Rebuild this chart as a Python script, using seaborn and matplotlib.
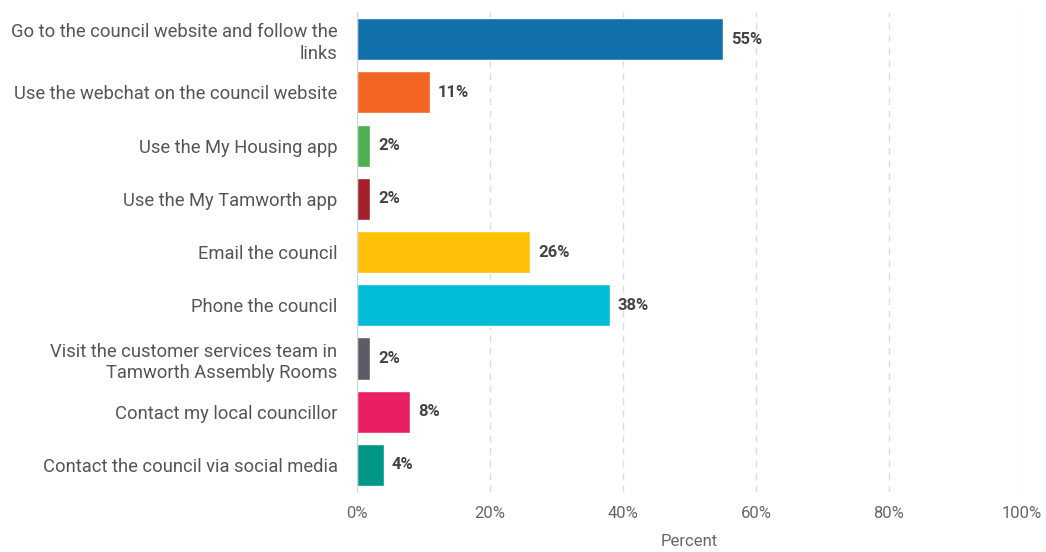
import pandas as pd
import matplotlib.pyplot as plt
import seaborn as sns

CATEGORIES = ['Go to the council website and follow the\nlinks',
              'Use the webchat on the council website',
              'Use the My Housing app',
              'Use the My Tamworth app',
              'Email the council',
              'Phone the council',
              'Visit the customer services team in\nTamworth Assembly Rooms',
              'Contact my local councillor',
              'Contact the council via social media']
PERCENT = [55, 11, 2, 2, 26, 38, 2, 8, 4]
COLORS = ['#1170AA', '#F26522', '#4CAF50', '#A3212A', '#FFC107',
          '#00BCD4', '#5E5A66', '#E91E63', '#009688']
XTICKS = [0, 20, 40, 60, 80, 100]

sns.set_style('white')
plt.rcParams['font.family'] = ['Roboto', 'DejaVu Sans']

df = pd.DataFrame({'option': CATEGORIES, 'percent': PERCENT})

fig = plt.figure(figsize=(10.46, 5.52), dpi=100)
ax = fig.add_axes([0.3413, 0.1094, 0.6358, 0.868])

sns.barplot(data=df, x='percent', y='option', hue='option', palette=COLORS,
            saturation=1, legend=False, width=0.79, ax=ax, zorder=3)

for p, v in zip(ax.patches, PERCENT):
    ax.text(p.get_width() + 1.2, p.get_y() + p.get_height() / 2, f'{v}%',
            va='center', ha='left', fontsize=12, fontweight='bold', color='#444444')

ax.set_xlim(0, 100)
ax.set_xticks(XTICKS)
ax.set_xticklabels([f'{t}%' for t in XTICKS], color='#666666', fontsize=12)
ax.tick_params(axis='y', labelsize=13.2, labelcolor='#555555', length=0, pad=14)
for lbl in ax.get_yticklabels():
    lbl.set_linespacing(1.25)
ax.tick_params(axis='x', length=0, pad=10)
ax.set_ylabel('')
ax.set_xlabel('Percent', fontsize=12, color='#666666', labelpad=10)

ax.grid(axis='x', linestyle=(0, (5, 4)), color='#DDDDDD', linewidth=1, zorder=0)
for s in ['top', 'right', 'bottom']:
    ax.spines[s].set_visible(False)
ax.spines['left'].set_color('#CCD3E0')
ax.spines['left'].set_zorder(4)

fig.savefig('out.png', dpi=100)
